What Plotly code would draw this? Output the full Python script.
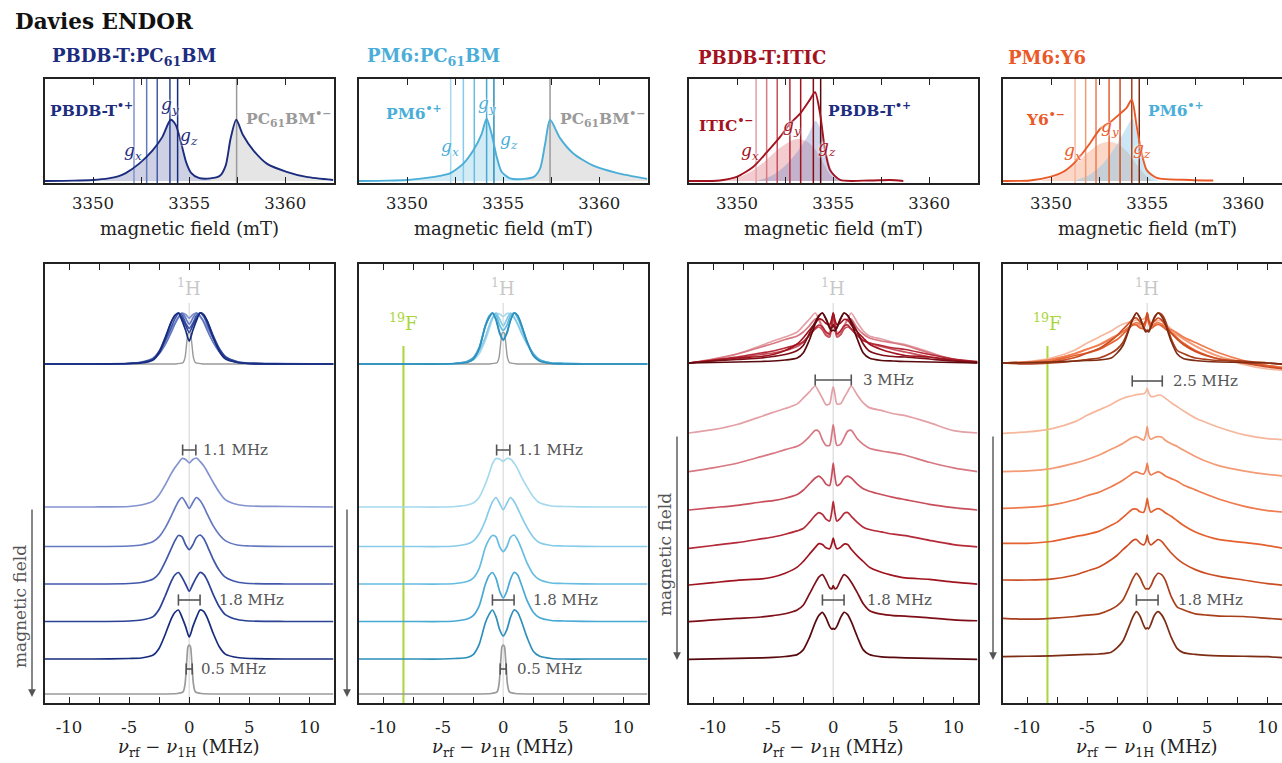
import plotly.graph_objects as go

W, H = 1282, 763
FONT = "DejaVu Serif"
INK = "#222222"
NOTE = "#555555"

# ============================ DATA ============================
# ---- top row: EPR spectra (magnetic field in mT, normalised intensity)
epr1_B = [3347.5, 3349.0, 3350.0, 3350.8, 3351.3, 3351.7, 3352.4, 3353.1, 3353.6, 3354.04,
          3354.3, 3354.6, 3354.85, 3355.1, 3355.5, 3356.1, 3356.6, 3356.9, 3357.15, 3357.45,
          3357.8, 3358.34, 3359.04, 3360.07, 3361.1, 3362.5]
epr1_I = [0.0, 0.003, 0.01, 0.025, 0.045, 0.077, 0.17, 0.30, 0.43, 0.60,
          0.55, 0.36, 0.18, 0.08, 0.03, 0.025, 0.05, 0.15, 0.41, 0.60,
          0.45, 0.30, 0.17, 0.09, 0.04, 0.01]

epr2_B = [3347.5, 3349.0, 3350.0, 3351.0, 3351.7, 3352.23, 3352.93, 3353.45, 3353.88, 3354.14,
          3354.4, 3354.66, 3354.92, 3355.36, 3356.1, 3356.6, 3356.92, 3357.18, 3357.44, 3357.96,
          3358.65, 3359.69, 3360.9, 3362.5]
epr2_I = [0.0, 0.003, 0.01, 0.03, 0.05, 0.074, 0.17, 0.30, 0.46, 0.61,
          0.46, 0.24, 0.09, 0.025, 0.02, 0.04, 0.12, 0.36, 0.60, 0.42,
          0.27, 0.15, 0.08, 0.02]

epr3_B = [3347.5, 3349.1, 3349.98, 3350.85, 3351.54, 3352.23, 3352.75, 3353.28, 3353.8, 3354.06,
          3354.32, 3354.58, 3354.84, 3355.36, 3356.9, 3357.96, 3358.65]
epr3_I = [0.0, 0.005, 0.04, 0.14, 0.28, 0.43, 0.56, 0.66, 0.80, 0.87,
          0.66, 0.30, 0.106, 0.01, 0.005, 0.01, 0.0]
itic_B = [3349.3, 3350.0, 3350.8, 3351.5, 3352.2, 3352.9, 3353.3, 3353.7, 3354.1, 3354.5, 3354.9, 3355.3]
itic_I = [0.0, 0.03, 0.10, 0.20, 0.32, 0.40, 0.41, 0.38, 0.30, 0.17, 0.05, 0.0]
pbdbt_B = [3351.0, 3351.8, 3352.5, 3353.2, 3353.7, 3354.09, 3354.4, 3354.7, 3355.0, 3355.5]
pbdbt_I = [0.0, 0.05, 0.15, 0.30, 0.45, 0.59, 0.48, 0.25, 0.08, 0.0]

epr4_B = [3347.5, 3348.9, 3349.95, 3350.64, 3351.33, 3352.03, 3352.55, 3353.07, 3353.59, 3353.94,
          3354.2, 3354.46, 3354.72, 3354.98, 3355.5, 3357.23, 3358.44]
epr4_I = [0.0, 0.005, 0.04, 0.09, 0.20, 0.37, 0.51, 0.575, 0.66, 0.72,
          0.80, 0.53, 0.27, 0.106, 0.03, 0.01, 0.005]
y6_B = [3349.4, 3350.2, 3351.0, 3351.8, 3352.5, 3353.0, 3353.5, 3354.0, 3354.5, 3355.0, 3355.3]
y6_I = [0.0, 0.04, 0.13, 0.26, 0.36, 0.385, 0.36, 0.28, 0.15, 0.04, 0.0]
pm6_B = [3351.2, 3352.0, 3352.7, 3353.3, 3353.8, 3354.23, 3354.5, 3354.8, 3355.1, 3355.6]
pm6_I = [0.0, 0.06, 0.17, 0.32, 0.48, 0.61, 0.45, 0.22, 0.07, 0.0]

# ---- field positions of the ENDOR measurements (mT)
fields1 = [3352.13, 3352.79, 3353.34, 3354.0, 3354.4]
fields2 = [3352.27, 3352.93, 3353.5, 3354.14, 3354.52]
fields3 = [3350.99, 3351.54, 3352.09, 3352.75, 3353.31, 3353.97, 3354.35]
fields4 = [3351.25, 3351.8, 3352.34, 3353.02, 3353.59, 3354.2, 3354.59]
pcbm_field1 = 3357.47
pcbm_field2 = 3357.44

# ---- bottom row: Davies ENDOR (nu_rf - nu_1H in MHz, normalised intensity)
nu_pcbm = [-12, -8, -5, -4, -3, -2.5, -2, -1.5, -1.2, -0.9, -0.6, -0.3, 0,
           0.3, 0.6, 0.9, 1.2, 1.5, 2, 2.5, 3, 4, 5, 8, 12]
nu_ref = [-12, -3, -1, -0.5, -0.35, -0.2, -0.1, 0, 0.1, 0.2, 0.35, 0.5, 1, 3, 12]
nu_nfa = [-12, -10, -8, -6, -5, -4, -3, -2.5, -2, -1.5, -1.2, -0.9, -0.6, -0.3, -0.12, 0,
          0.12, 0.3, 0.6, 0.9, 1.2, 1.5, 2, 2.5, 3, 4, 5, 6, 8, 10, 12]

endor1 = [
    [0, 0, 0.01, 0.04, 0.12, 0.25, 0.45, 0.68, 0.80, 0.90, 0.99, 0.97, 0.90, 0.97, 1.00, 0.93, 0.84, 0.72, 0.50, 0.30, 0.15, 0.05, 0.02, 0.01, 0],
    [0, 0, 0.01, 0.03, 0.10, 0.20, 0.38, 0.62, 0.78, 0.92, 1.00, 0.90, 0.78, 0.90, 1.00, 0.94, 0.82, 0.66, 0.42, 0.24, 0.12, 0.03, 0.01, 0, 0],
    [0, 0, 0.01, 0.03, 0.10, 0.22, 0.45, 0.72, 0.88, 0.99, 0.96, 0.80, 0.70, 0.80, 0.95, 1.00, 0.93, 0.78, 0.50, 0.28, 0.14, 0.04, 0.01, 0, 0],
    [0, 0, 0.01, 0.03, 0.10, 0.25, 0.52, 0.82, 0.95, 1.00, 0.90, 0.76, 0.62, 0.76, 0.90, 1.00, 0.96, 0.84, 0.55, 0.30, 0.14, 0.04, 0.01, 0, 0],
    [0, 0, 0.01, 0.02, 0.08, 0.22, 0.50, 0.82, 0.95, 1.00, 0.85, 0.66, 0.45, 0.66, 0.85, 1.00, 0.97, 0.84, 0.52, 0.25, 0.10, 0.03, 0.01, 0, 0],
]
endor1_ref = [0, 0, 0.01, 0.05, 0.2, 0.7, 0.97, 1.0, 0.97, 0.7, 0.2, 0.05, 0.01, 0, 0]

endor2 = [
    [0, 0, 0, 0.01, 0.04, 0.08, 0.20, 0.46, 0.66, 0.88, 0.99, 0.98, 0.93, 0.99, 0.98, 0.90, 0.78, 0.62, 0.40, 0.21, 0.09, 0.02, 0.01, 0, 0],
    [0, 0, 0, 0.01, 0.05, 0.11, 0.26, 0.52, 0.73, 0.91, 1.00, 0.88, 0.75, 0.88, 1.00, 0.92, 0.78, 0.62, 0.38, 0.19, 0.08, 0.02, 0.01, 0, 0],
    [0, 0, 0, 0.01, 0.05, 0.12, 0.32, 0.74, 0.90, 0.99, 0.96, 0.76, 0.66, 0.76, 0.95, 1.00, 0.90, 0.73, 0.42, 0.20, 0.09, 0.02, 0.01, 0, 0],
    [0, 0, 0, 0.01, 0.05, 0.12, 0.32, 0.75, 0.93, 1.00, 0.88, 0.62, 0.48, 0.62, 0.86, 1.00, 0.95, 0.76, 0.42, 0.19, 0.08, 0.02, 0.01, 0, 0],
    [0, 0, 0, 0.01, 0.03, 0.09, 0.30, 0.73, 0.90, 1.00, 0.86, 0.60, 0.47, 0.60, 0.85, 1.00, 0.95, 0.78, 0.43, 0.16, 0.06, 0.01, 0, 0, 0],
]
endor2_ref = [0, 0, 0.01, 0.05, 0.2, 0.7, 0.97, 1.0, 0.97, 0.7, 0.2, 0.05, 0.01, 0, 0]

endor3 = [
    [0, 0.07, 0.18, 0.35, 0.44, 0.52, 0.62, 0.74, 0.87, 1.00, 0.88, 0.74, 0.60, 0.62, 0.85, 0.98, 0.85, 0.62, 0.62, 0.75, 0.88, 1.00, 0.81, 0.64, 0.54, 0.48, 0.41, 0.37, 0.22, 0.05, 0],
    [0, 0.08, 0.18, 0.32, 0.39, 0.47, 0.54, 0.62, 0.74, 0.88, 0.86, 0.68, 0.56, 0.56, 0.80, 1.00, 0.80, 0.56, 0.58, 0.72, 0.86, 0.88, 0.70, 0.58, 0.50, 0.44, 0.40, 0.35, 0.20, 0.08, 0],
    [0, 0.05, 0.10, 0.17, 0.20, 0.25, 0.33, 0.42, 0.55, 0.68, 0.72, 0.66, 0.55, 0.52, 0.75, 1.00, 0.75, 0.52, 0.56, 0.68, 0.72, 0.68, 0.55, 0.45, 0.40, 0.33, 0.27, 0.22, 0.12, 0.05, 0],
    [0, 0.06, 0.12, 0.20, 0.24, 0.30, 0.37, 0.42, 0.55, 0.70, 0.76, 0.72, 0.62, 0.58, 0.78, 1.00, 0.78, 0.58, 0.64, 0.74, 0.76, 0.68, 0.55, 0.45, 0.40, 0.35, 0.30, 0.27, 0.17, 0.08, 0.03],
    [0, 0.05, 0.10, 0.13, 0.17, 0.25, 0.38, 0.50, 0.65, 0.80, 0.88, 0.86, 0.79, 0.77, 0.88, 1.00, 0.88, 0.77, 0.80, 0.87, 0.86, 0.76, 0.62, 0.50, 0.38, 0.27, 0.20, 0.15, 0.12, 0.06, 0.02],
    [0, 0.04, 0.07, 0.10, 0.13, 0.17, 0.25, 0.35, 0.58, 0.82, 0.95, 1.00, 0.88, 0.72, 0.70, 0.77, 0.70, 0.72, 0.88, 1.00, 0.95, 0.84, 0.62, 0.38, 0.24, 0.16, 0.13, 0.12, 0.08, 0.04, 0.02],
    [0, 0.01, 0.02, 0.03, 0.04, 0.06, 0.10, 0.20, 0.45, 0.78, 0.93, 1.00, 0.88, 0.70, 0.64, 0.66, 0.64, 0.70, 0.88, 1.00, 0.95, 0.80, 0.48, 0.20, 0.10, 0.05, 0.04, 0.03, 0.02, 0.01, 0],
]

endor4 = [
    [0, 0.03, 0.10, 0.26, 0.40, 0.52, 0.64, 0.72, 0.78, 0.82, 0.84, 0.86, 0.87, 0.88, 0.92, 1.00, 0.90, 0.82, 0.82, 0.85, 0.84, 0.78, 0.68, 0.59, 0.50, 0.34, 0.23, 0.13, -0.03, -0.12, -0.15],
    [0, 0.02, 0.07, 0.19, 0.27, 0.37, 0.50, 0.56, 0.63, 0.72, 0.76, 0.78, 0.74, 0.70, 0.82, 1.00, 0.80, 0.72, 0.76, 0.78, 0.77, 0.70, 0.62, 0.56, 0.48, 0.34, 0.22, 0.13, 0.02, -0.06, -0.11],
    [0, 0.02, 0.07, 0.19, 0.28, 0.36, 0.48, 0.55, 0.63, 0.72, 0.78, 0.81, 0.78, 0.76, 0.85, 1.00, 0.82, 0.74, 0.78, 0.81, 0.78, 0.72, 0.66, 0.60, 0.52, 0.41, 0.30, 0.20, 0.05, -0.05, -0.10],
    [0, 0.00, 0.04, 0.15, 0.20, 0.27, 0.40, 0.47, 0.58, 0.70, 0.76, 0.76, 0.70, 0.69, 0.82, 1.00, 0.82, 0.69, 0.74, 0.77, 0.74, 0.68, 0.60, 0.50, 0.40, 0.25, 0.15, 0.08, 0.02, -0.05, -0.15],
    [0, 0.00, 0.02, 0.11, 0.20, 0.29, 0.45, 0.55, 0.68, 0.80, 0.88, 0.90, 0.82, 0.78, 0.85, 1.00, 0.85, 0.78, 0.84, 0.90, 0.86, 0.76, 0.60, 0.47, 0.37, 0.23, 0.14, 0.08, 0.00, -0.08, -0.13],
    [0, -0.02, 0.00, 0.04, 0.07, 0.10, 0.20, 0.28, 0.42, 0.70, 0.88, 1.00, 0.90, 0.72, 0.65, 0.66, 0.65, 0.72, 0.90, 1.00, 0.97, 0.85, 0.48, 0.25, 0.19, 0.10, 0.07, 0.05, 0.04, 0.00, -0.04],
    [0, 0.01, 0.02, 0.04, 0.05, 0.06, 0.10, 0.20, 0.36, 0.68, 0.88, 1.00, 0.90, 0.70, 0.62, 0.64, 0.62, 0.72, 0.92, 1.00, 0.93, 0.78, 0.43, 0.18, 0.09, 0.05, 0.03, 0.02, 0.01, 0.00, -0.04],
]

# ---- annotated splittings (MHz) and the 19F Larmor offset (MHz)
splits1 = [1.1, 1.8, 0.5]
splits2 = [1.1, 1.8, 0.5]
splits3 = [3.0, 1.8]
splits4 = [2.5, 1.8]
nu_19F = -8.3

# ============================ STYLE / LAYOUT ============================
C1 = ['#8393CF', '#6478C0', '#4259AB', '#2A4196', '#172C7E']
C2 = ['#A5D9EE', '#86CBE9', '#67BCE1', '#48A9D4', '#2E8FBA']
C3 = ['#E3A0A6', '#D77882', '#C94E5B', '#B52A38', '#A0141F', '#7E0E17', '#5A0A0E']
C4 = ['#F6B79D', '#F49B75', '#EF7B4E', '#E5602F', '#CC4D22', '#A83E1B', '#7D2D13']
MAIN = ['#1C2C7E', '#4BAED8', '#A3121F', '#EA5A28']
GREY = '#9A9A9A'
GREEN = '#A9D63C'

COLS = [(45, 333.5), (359, 647.5), (689, 977.5), (1003, 1282)]
TOP = (79, 183)
BOT = (264, 703)
MT_PX = 19.22
MHZ_PX = 12.02


def fx(p):
    return p / W


def fy(p):
    return 1 - p / H


fig = go.Figure()


def xname(i):
    return 'x' if i == 1 else f'x{i}'


def yname(i):
    return 'y' if i == 1 else f'y{i}'


def line(x, y, ax, color, width=1.7, fill=None, fillcolor=None, smooth=0.7):
    fig.add_trace(go.Scatter(
        x=x, y=y, xaxis=xname(ax), yaxis=yname(ax), mode='lines',
        line=dict(color=color, width=width, shape='spline', smoothing=smooth),
        fill=fill, fillcolor=fillcolor, hoverinfo='skip', showlegend=False))


def vline(xv, ax, color, y0, y1, width=1.5):
    fig.add_trace(go.Scatter(
        x=[xv, xv], y=[y0, y1], xaxis=xname(ax), yaxis=yname(ax), mode='lines',
        line=dict(color=color, width=width), hoverinfo='skip', showlegend=False))


annotations = []


def ann(text, x, y, size, color, xanchor='center', yanchor='middle', bold=False,
        angle=0, shadow=None, xref='paper', yref='paper'):
    f = dict(family=FONT, size=size, color=color)
    if bold:
        f['weight'] = 'bold'
    if shadow:
        f['shadow'] = shadow
    annotations.append(dict(
        text=text, x=fx(x) if xref == 'paper' else x, y=fy(y) if yref == 'paper' else y,
        xref=xref, yref=yref, xanchor=xanchor, yanchor=yanchor, showarrow=False,
        font=f, textangle=angle))


# ---------------- top row ----------------
TOPFILL = [
    ('rgba(28,44,126,0.22)', 'rgba(150,150,150,0.25)'),
    ('rgba(75,174,216,0.25)', 'rgba(150,150,150,0.25)'),
]
# col 1
split = epr1_B.index(3356.1)
line(epr1_B[:split + 1], epr1_I[:split + 1], 1, 'rgba(0,0,0,0)', 0, 'tozeroy', TOPFILL[0][0])
line(epr1_B[split:], epr1_I[split:], 1, 'rgba(0,0,0,0)', 0, 'tozeroy', TOPFILL[0][1])
for k, b in enumerate(fields1):
    vline(b, 1, C1[k], -0.02, 1.0)
vline(pcbm_field1, 1, GREY, -0.02, 1.0)
line(epr1_B, epr1_I, 1, MAIN[0], 1.9)
# col 2
split = epr2_B.index(3356.1)
line(epr2_B[:split + 1], epr2_I[:split + 1], 2, 'rgba(0,0,0,0)', 0, 'tozeroy', TOPFILL[1][0])
line(epr2_B[split:], epr2_I[split:], 2, 'rgba(0,0,0,0)', 0, 'tozeroy', TOPFILL[1][1])
for k, b in enumerate(fields2):
    vline(b, 2, C2[k], -0.02, 1.0)
vline(pcbm_field2, 2, GREY, -0.02, 1.0)
line(epr2_B, epr2_I, 2, MAIN[1], 1.9)
# col 3
line(itic_B, itic_I, 3, 'rgba(0,0,0,0)', 0, 'tozeroy', 'rgba(222,120,130,0.38)')
line(pbdbt_B, pbdbt_I, 3, 'rgba(0,0,0,0)', 0, 'tozeroy', 'rgba(110,130,195,0.35)')
for k, b in enumerate(fields3):
    vline(b, 3, C3[k], -0.02, 1.0)
line(epr3_B, epr3_I, 3, MAIN[2], 1.9)
# col 4
line(y6_B, y6_I, 4, 'rgba(0,0,0,0)', 0, 'tozeroy', 'rgba(245,160,125,0.42)')
line(pm6_B, pm6_I, 4, 'rgba(0,0,0,0)', 0, 'tozeroy', 'rgba(120,195,232,0.40)')
for k, b in enumerate(fields4):
    vline(b, 4, C4[k], -0.02, 1.0)
line(epr4_B, epr4_I, 4, MAIN[3], 1.9)

# ---------------- bottom row ----------------
shapes = []
OVER = 339          # overlay baseline (px above panel bottom)


def zero_line(ax):
    shapes.append(dict(type='line', xref=xname(ax), yref=yname(ax), x0=0, x1=0, y0=0, y1=400,
                       line=dict(color='#E2E2E2', width=1.5), layer='below'))


def f_line(ax):
    shapes.append(dict(type='line', xref=xname(ax), yref=yname(ax), x0=nu_19F, x1=nu_19F, y0=0, y1=357,
                       line=dict(color=GREEN, width=2), layer='below'))


def bar(ax, width, ylev, tx):
    fig.add_trace(go.Scatter(
        x=[-width / 2, width / 2], y=[ylev, ylev], xaxis=xname(ax), yaxis=yname(ax),
        mode='lines+markers', line=dict(color=NOTE, width=1.6),
        marker=dict(symbol='line-ns', size=8, line=dict(color=NOTE, width=1.6)),
        hoverinfo='skip', showlegend=False))
    ann(f'{width:g} MHz', tx, ylev, 15, NOTE, xanchor='left', xref=xname(ax), yref=yname(ax))


for ax in (5, 6, 7, 8):
    zero_line(ax)
f_line(6)
f_line(8)

# col 1 & 2 (PC61BM blends)
STACK12 = [196, 156.5, 119, 81.5, 44]
REF_BASE = 9
for ax, spectra, ref, cols, splits in ((5, endor1, endor1_ref, C1, splits1),
                                       (6, endor2, endor2_ref, C2, splits2)):
    line(nu_ref, [OVER + 0.62 * 51 * v for v in ref], ax, GREY, 1.4)
    for k, s in enumerate(spectra):
        line(nu_pcbm, [OVER + 51 * v for v in s], ax, cols[k])
    for k, s in enumerate(spectra):
        line(nu_pcbm, [STACK12[k] + 49 * v for v in s], ax, cols[k])
    line(nu_ref, [REF_BASE + 49 * v for v in ref], ax, GREY)
bar(5, splits1[0], 253, 1.0)
bar(5, splits1[1], 103, 2.3)
bar(5, splits1[2], 34, 0.85)
bar(6, splits2[0], 253, 1.1)
bar(6, splits2[1], 103, 2.3)
bar(6, splits2[2], 34, 0.95)

# col 3 & 4 (NFA blends)
STACK3 = [270, 231.3, 193, 154.7, 118, 81.3, 43.7]
STACK4 = [269.7, 231.3, 194.7, 159.7, 123, 84.7, 46.3]
for ax, spectra, cols, base, amp in ((7, endor3, C3, STACK3, 47), (8, endor4, C4, STACK4, 45)):
    for k, s in enumerate(spectra):
        line(nu_nfa, [OVER + 1 + 50 * v for v in s], ax, cols[k])
    for k, s in enumerate(spectra):
        line(nu_nfa, [base[k] + amp * v for v in s], ax, cols[k])
bar(7, splits3[0], 323, 2.3)
bar(7, splits3[1], 103, 2.65)
bar(8, splits4[0], 322, 2.0)
bar(8, splits4[1], 103, 2.4)

# ---------------- axes ----------------
AX = dict(showline=True, linecolor=INK, linewidth=1.5, showgrid=False, zeroline=False)
layout = dict(width=W, height=H, margin=dict(l=0, r=0, t=0, b=0),
              paper_bgcolor='white', plot_bgcolor='white', showlegend=False)
top_ticks = [3347.5 + 2.5 * k for k in range(7)]
top_text = ['', '3350', '', '3355', '', '3360', '']
bot_ticks = [-10, -7.5, -5, -2.5, 0, 2.5, 5, 7.5, 10]
bot_text = ['-10', '', '-5', '', '0', '', '5', '', '10']
for i, (x0, x1) in enumerate(COLS):
    last = i == 3
    dom = [fx(x0), min(1.0, fx(x1))]
    for row, (ytop, ybot) in enumerate((TOP, BOT)):
        n = i + 1 + 4 * row
        if row == 0:
            rng = [3347.5, 3347.5 + (x1 - x0) / MT_PX]
            tv, tt, yr, so = top_ticks, top_text, [-0.02, 1.0], 4
        else:
            rng = [-12, -12 + (x1 - x0) / MHZ_PX]
            tv, tt, yr, so = bot_ticks, bot_text, [0, ybot - ytop], 8
        layout['xaxis' if n == 1 else f'xaxis{n}'] = dict(
            AX, domain=dom, anchor=yname(n), range=rng, mirror='ticks', ticks='inside',
            ticklen=6, tickwidth=1.3, tickcolor=INK, tickvals=tv, ticktext=tt,
            tickfont=dict(family=FONT, size=16.5, color=INK), ticklabelstandoff=so)
        layout['yaxis' if n == 1 else f'yaxis{n}'] = dict(
            AX, domain=[fy(ybot), fy(ytop)], anchor=xname(n), range=yr,
            mirror=not last, ticks='', showticklabels=False)

# ---------------- text ----------------
ann('Davies ENDOR', 13, 21, 21.5, '#111111', xanchor='left', bold=True)
ann('PBDB-T:PC<sub>61</sub>BM', 50, 57, 18, MAIN[0], xanchor='left', bold=True)
ann('PM6:PC<sub>61</sub>BM', 365, 57, 18, MAIN[1], xanchor='left', bold=True)
ann('PBDB-T:ITIC', 696, 57, 18, MAIN[2], xanchor='left', bold=True)
ann('PM6:Y6', 1006, 57, 18, MAIN[3], xanchor='left', bold=True)

SH = '0px 0px 3px white, 0px 0px 3px white'
gx, gy, gz = ('<i>g</i><sub><i>x</i></sub>', '<i>g</i><sub><i>y</i></sub>',
              '<i>g</i><sub><i>z</i></sub>')
# col 1
ann('PBDB-T<sup>•+</sup>', 91, 110, 15.5, MAIN[0], bold=True)
ann('PC<sub>61</sub>BM<sup>•−</sup>', 288, 118, 15.5, GREY, bold=True)
ann(gx, 133, 151, 17, MAIN[0], shadow=SH)
ann(gy, 170, 106, 17, MAIN[0], shadow=SH)
ann(gz, 189, 136, 17, MAIN[0], shadow=SH)
# col 2
ann('PM6<sup>•+</sup>', 414, 112, 15.5, MAIN[1], bold=True)
ann('PC<sub>61</sub>BM<sup>•−</sup>', 602, 118, 15.5, GREY, bold=True)
ann(gx, 450, 148, 17, MAIN[1], shadow=SH)
ann(gy, 487, 104, 17, MAIN[1], shadow=SH)
ann(gz, 509, 140, 17, MAIN[1], shadow=SH)
# col 3
ann('ITIC<sup>•−</sup>', 726, 125, 15.5, MAIN[2], bold=True)
ann('PBDB-T<sup>•+</sup>', 869, 110, 15.5, MAIN[0], bold=True)
ann(gx, 750, 152, 17, MAIN[2], shadow=SH)
ann(gy, 792, 126, 17, MAIN[2], shadow=SH)
ann(gz, 827, 148, 17, MAIN[2], shadow=SH)
# col 4
ann('Y6<sup>•−</sup>', 1045, 118, 15.5, MAIN[3], bold=True)
ann('PM6<sup>•+</sup>', 1176, 110, 15.5, MAIN[1], bold=True)
ann(gx, 1073, 152, 17, MAIN[3], shadow=SH)
ann(gy, 1110, 128, 17, MAIN[3], shadow=SH)
ann(gz, 1142, 149, 17, MAIN[3], shadow=SH)

for (x0, x1) in COLS:
    cx = x0 + 144.3
    ann('magnetic field (mT)', cx, 228, 18, INK)
    ann('<i>ν</i><sub>rf</sub> − <i>ν</i><sub>1H</sub> (MHz)', cx, 748, 18, INK)
    ann('<sup>1</sup>H', cx, 287, 18, '#C8C8C8')
for cx in (COLS[1][0] + 144.3 + nu_19F * MHZ_PX, COLS[3][0] + 144.3 + nu_19F * MHZ_PX):
    ann('<sup>19</sup>F', cx, 322, 18, GREEN)

ann('magnetic field', 20, 607, 17, NOTE, angle=-90)
ann('magnetic field', 665, 555, 17, NOTE, angle=-90)

for (xa, ytail, yhead) in ((32, 508, 697), (347, 508, 697), (677, 435, 660), (993, 435, 660)):
    annotations.append(dict(x=fx(xa), y=fy(yhead), xref='paper', yref='paper', text='',
                            showarrow=True, ax=0, ay=-(yhead - ytail), axref='pixel', ayref='pixel',
                            arrowhead=2, arrowsize=1.1, arrowwidth=1.4, arrowcolor=NOTE))

layout['annotations'] = annotations
layout['shapes'] = shapes
fig.update_layout(**layout)
fig.write_html('out.html', config={'displayModeBar': False},
               post_script="document.body.style.margin='0';")
